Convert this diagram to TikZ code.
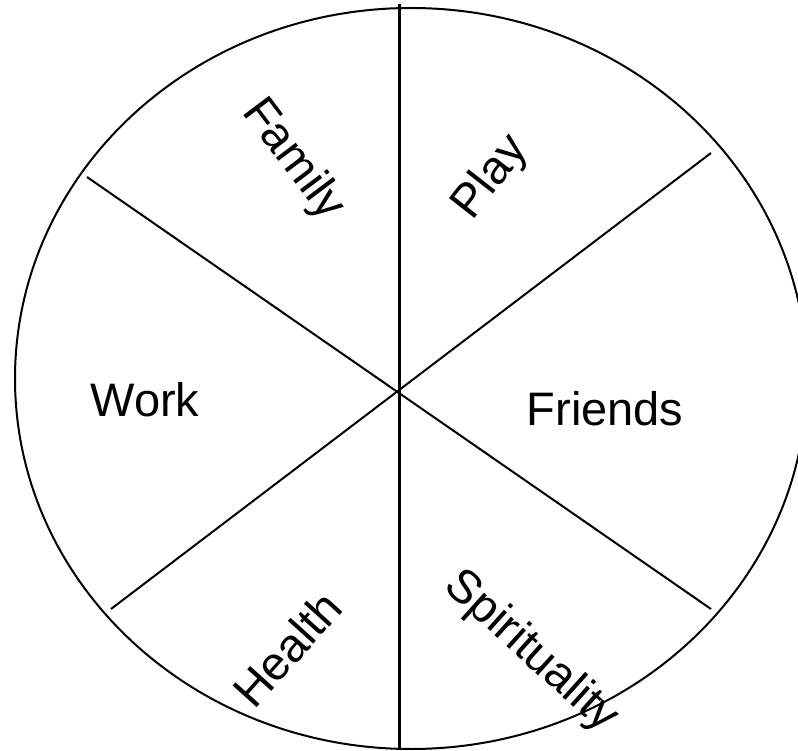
\documentclass[tikz,border=0pt]{standalone}
\usepackage{fontspec}
\setmainfont{Liberation Sans}
\usetikzlibrary{positioning}

\tikzset{
  sector/.style={font=\fontsize{47}{50}\selectfont, inner sep=0pt},
  spoke/.style={line width=2pt},
}

\begin{document}
\begin{tikzpicture}[x=1pt,y=-1pt]
\clip (0,0) rectangle (798,751);
% Wheel rim
\draw[line width=2pt] (411,378.5) ellipse (396 and 370.5);

% Spoke ends
\coordinate (top) at (399,4);
\coordinate (bot) at (399,748);
\coordinate (ul) at (87,177);
\coordinate (lr) at (711,609);
\coordinate (ll) at (111,609);
\coordinate (ur) at (711,153);

% Spokes
\draw[spoke] (ul) -- (lr);
\draw[spoke] (ll) -- (ur);
\draw[line width=3pt] (top) -- (bot);

% Sector labels
\node[sector,rotate=-53] (family) at (293,160) {Family};
\node[sector,rotate=52] (play) at (491,178) {Play};
\node[sector] (work) at (145,400) {Work};
\node[sector] (friends) at (605,409) {Friends};
\node[sector,rotate=48] (health) at (287,649) {Health};
\node[sector,rotate=-42] (spirit) at (531,652) {Spirituality};
\end{tikzpicture}
\end{document}
